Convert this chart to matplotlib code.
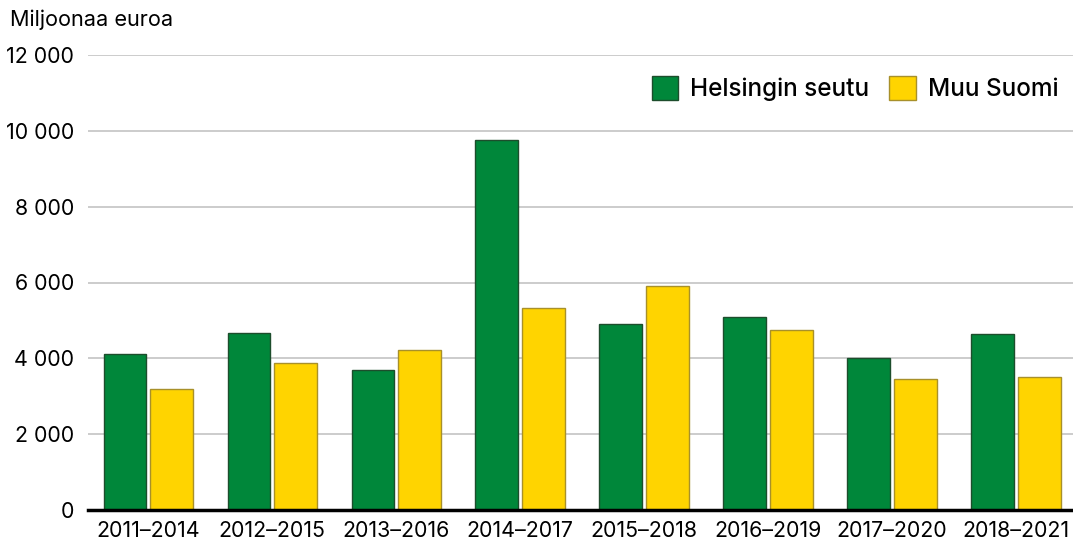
import numpy as np
import matplotlib
matplotlib.use("Agg")
import matplotlib.pyplot as plt
from matplotlib.ticker import FuncFormatter

plt.rcParams['font.family'] = ['Inter', 'DejaVu Sans']

periods = ['2011–2014', '2012–2015', '2013–2016', '2014–2017',
           '2015–2018', '2016–2019', '2017–2020', '2018–2021']
helsinki = [4110, 4670, 3690, 9760, 4900, 5090, 4010, 4640]
muu_suomi = [3190, 3880, 4220, 5330, 5910, 4750, 3460, 3510]
yticks = [0, 2000, 4000, 6000, 8000, 10000, 12000]

green = '#00873a'
yellow = '#ffd400'

fig = plt.figure(figsize=(10.73, 5.47), dpi=100)
ax = fig.add_axes([88/1073, 1 - 510/547, 1 - 88/1073, (510 - 55)/547])

x = np.arange(len(periods))
w = 0.345
ax.bar(x - 0.187, helsinki, w, color=green, edgecolor='#1d4d2c', linewidth=1.0,
       label='Helsingin seutu', zorder=3)
ax.bar(x + 0.187, muu_suomi, w, color=yellow, edgecolor='#a8902a', linewidth=1.0,
       label='Muu Suomi', zorder=3)

ax.set_xlim(-0.485, len(periods) - 0.54)
ax.set_ylim(0, 12000)
ax.set_yticks(yticks)
ax.yaxis.set_major_formatter(FuncFormatter(lambda v, p: f'{int(v):,}'.replace(',', ' ')))
ax.set_xticks(x)
ax.set_xticklabels(periods)
ax.tick_params(axis='y', length=0, pad=10, labelsize=15.4)
ax.tick_params(axis='x', length=0, pad=8, labelsize=15.4)
ax.grid(axis='y', color='#c8c8c8', linewidth=1.3, zorder=0)
for s in ['top', 'right', 'left']:
    ax.spines[s].set_visible(False)
ax.spines['bottom'].set_linewidth(2.5)
ax.spines['bottom'].set_color('black')
ax.spines['bottom'].set_zorder(4)

fig.text(10/1073, 1 - 20/547, 'Miljoonaa euroa', fontsize=15.6, va='center', ha='left')

leg = ax.legend(loc='upper right', bbox_to_anchor=(1.0, 0.985), ncol=2, frameon=False,
                fontsize=17.5, handlelength=1.1, handleheight=1.1, handletextpad=0.5,
                columnspacing=0.8, borderaxespad=0.2)
for t in leg.get_texts():
    t.set_fontweight('medium')

fig.savefig('out.png', dpi=100)
